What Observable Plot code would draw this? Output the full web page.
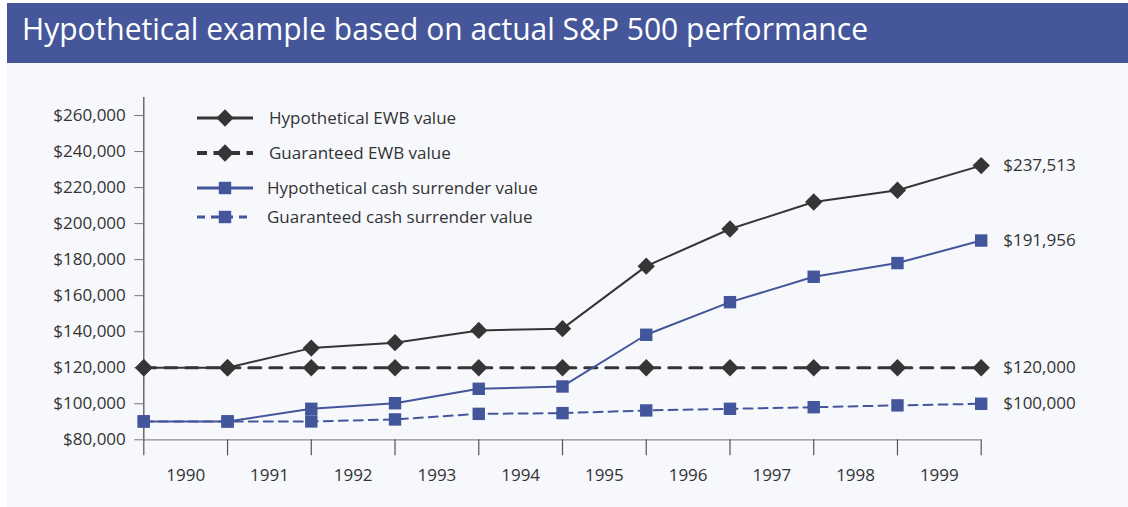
<!DOCTYPE html>
<html><head><meta charset="utf-8">
<script src="https://cdn.jsdelivr.net/npm/d3@7"></script>
<script src="https://cdn.jsdelivr.net/npm/@observablehq/plot@0.6"></script>
<style>
body{margin:0;background:#fff;font-family:"Open Sans",sans-serif;}
#wrap{position:relative;width:1128px;height:507px;overflow:hidden;background:#fff;}
#bar{position:absolute;left:7px;top:3px;width:1121px;height:60px;background:#45579a;}
#panel{position:absolute;left:7px;top:63px;width:1121px;height:444px;background:#f7f8fc;}
#chart{position:absolute;left:0;top:63px;}
#legend{position:absolute;left:0;top:0;pointer-events:none;}
</style></head>
<body>
<div id="wrap">
  <div id="bar"><svg width="1121" height="60"><text x="15" y="37" fill="#fff" font-family="Open Sans" font-size="31" textLength="846" lengthAdjust="spacingAndGlyphs">Hypothetical example based on actual S&amp;P 500 performance</text></svg></div>
  <div id="panel"></div>
  <div id="chart"></div>
  <svg id="legend" width="1128" height="507"></svg>
</div>
<script>
// Data
const years = ["1990","1991","1992","1993","1994","1995","1996","1997","1998","1999"];
const steps = [0,1,2,3,4,5,6,7,8,9,10];
const hypEWB  = [120000,120000,130900,133900,140700,141700,176400,197000,212000,218500,232200];
const guarEWB = [120000,120000,120000,120000,120000,120000,120000,120000,120000,120000,120000];
const hypCSV  = [90200,90200,97200,100300,108300,109600,138300,156400,170500,178100,190600];
const guarCSV = [90200,90200,90200,91300,94400,94800,96300,97200,98100,99100,100000];
const seriesNames = ["Hypothetical EWB value","Guaranteed EWB value","Hypothetical cash surrender value","Guaranteed cash surrender value"];
const endLabels = ["$237,513","$120,000","$191,956","$100,000"];
const yTicks = [80000,100000,120000,140000,160000,180000,200000,220000,240000,260000];

const dark = "#353535", blue = "#44569b";
const series = [
  {name: seriesNames[0], label: endLabels[0], values: hypEWB,  stroke: dark, dash: null,   width: 2, symbol: "diamond2", r: 7.8},
  {name: seriesNames[1], label: endLabels[1], values: guarEWB, stroke: dark, dash: "12,9", width: 3, symbol: "diamond2", r: 7.8},
  {name: seriesNames[2], label: endLabels[2], values: hypCSV,  stroke: blue, dash: null,   width: 2, symbol: "square",   r: 7},
  {name: seriesNames[3], label: endLabels[3], values: guarCSV, stroke: blue, dash: "9,6",  width: 2, symbol: "square",   r: 7}
];
const endRows = series.map(s => ({x: steps[steps.length - 1], y: s.values[s.values.length - 1], label: s.label}));

const fmt = d => "$" + d3.format(",")(d);
const marks = [
  Plot.ruleY([80000], {stroke: "#8c8c8c", strokeWidth: 1.3}),
  Plot.ruleX([0], {stroke: "#555", strokeWidth: 1.3}),
  Plot.axisX(steps, {tickSize: 16, tickFormat: () => "", stroke: "#555", strokeWidth: 1.2, label: null}),
  Plot.axisX(years.map((y, i) => i + 0.5), {tickSize: 0, tickPadding: 29, tickFormat: d => years[Math.floor(d)], fontSize: 17, fill: "#333", label: null}),
  Plot.axisY(yTicks, {tickSize: 9, tickPadding: 9, tickFormat: fmt, fontSize: 17, stroke: "#777", fill: "#333", label: null})
];
for (const s of series) {
  marks.push(Plot.line(s.values, {x: (d, i) => steps[i], y: d => d, stroke: s.stroke, strokeWidth: s.width, strokeDasharray: s.dash}));
}
for (const s of series) {
  marks.push(Plot.dot(s.values, {x: (d, i) => steps[i], y: d => d, symbol: s.symbol, r: s.r, fill: s.stroke, stroke: "none"}));
}
marks.push(Plot.text(endRows, {x: "x", y: "y", text: "label", dx: 22, textAnchor: "start", fontSize: 17, fill: "#333"}));

const chart = Plot.plot({
  width: 1128, height: 444,
  marginLeft: 143.3, marginRight: 147.3, marginTop: 34, marginBottom: 67.7,
  x: {type: "linear", domain: [0, 10]},
  y: {type: "linear", domain: [80000, 270000]},
  style: {background: "transparent", fontFamily: "Open Sans", fontSize: "17px", color: "#333"},
  marks
});
document.getElementById("chart").appendChild(chart);

// Legend
const lg = d3.select("#legend");
const rowsY = [118, 153, 188, 217];
const textX = [269, 269, 267, 267];
series.forEach((s, i) => {
  const g = lg.append("g").attr("transform", `translate(0,${rowsY[i]})`);
  g.append("line").attr("x1", 197).attr("x2", 253).attr("y1", 0).attr("y2", 0)
    .attr("stroke", s.stroke).attr("stroke-width", s.width + 1)
    .attr("stroke-dasharray", s.dash ? (i === 1 ? "10,6.5" : "8,6") : null);
  const sym = s.symbol === "diamond2" ? d3.symbolDiamond2 : d3.symbolSquare;
  g.append("path").attr("transform", "translate(225,0)")
    .attr("d", d3.symbol(sym, Math.PI * s.r * s.r)()).attr("fill", s.stroke);
  g.append("text").attr("x", textX[i]).attr("y", 0).attr("dy", "0.35em")
    .attr("font-family", "Open Sans").attr("font-size", 17).attr("fill", "#333").text(s.name);
});
</script>
</body></html>
